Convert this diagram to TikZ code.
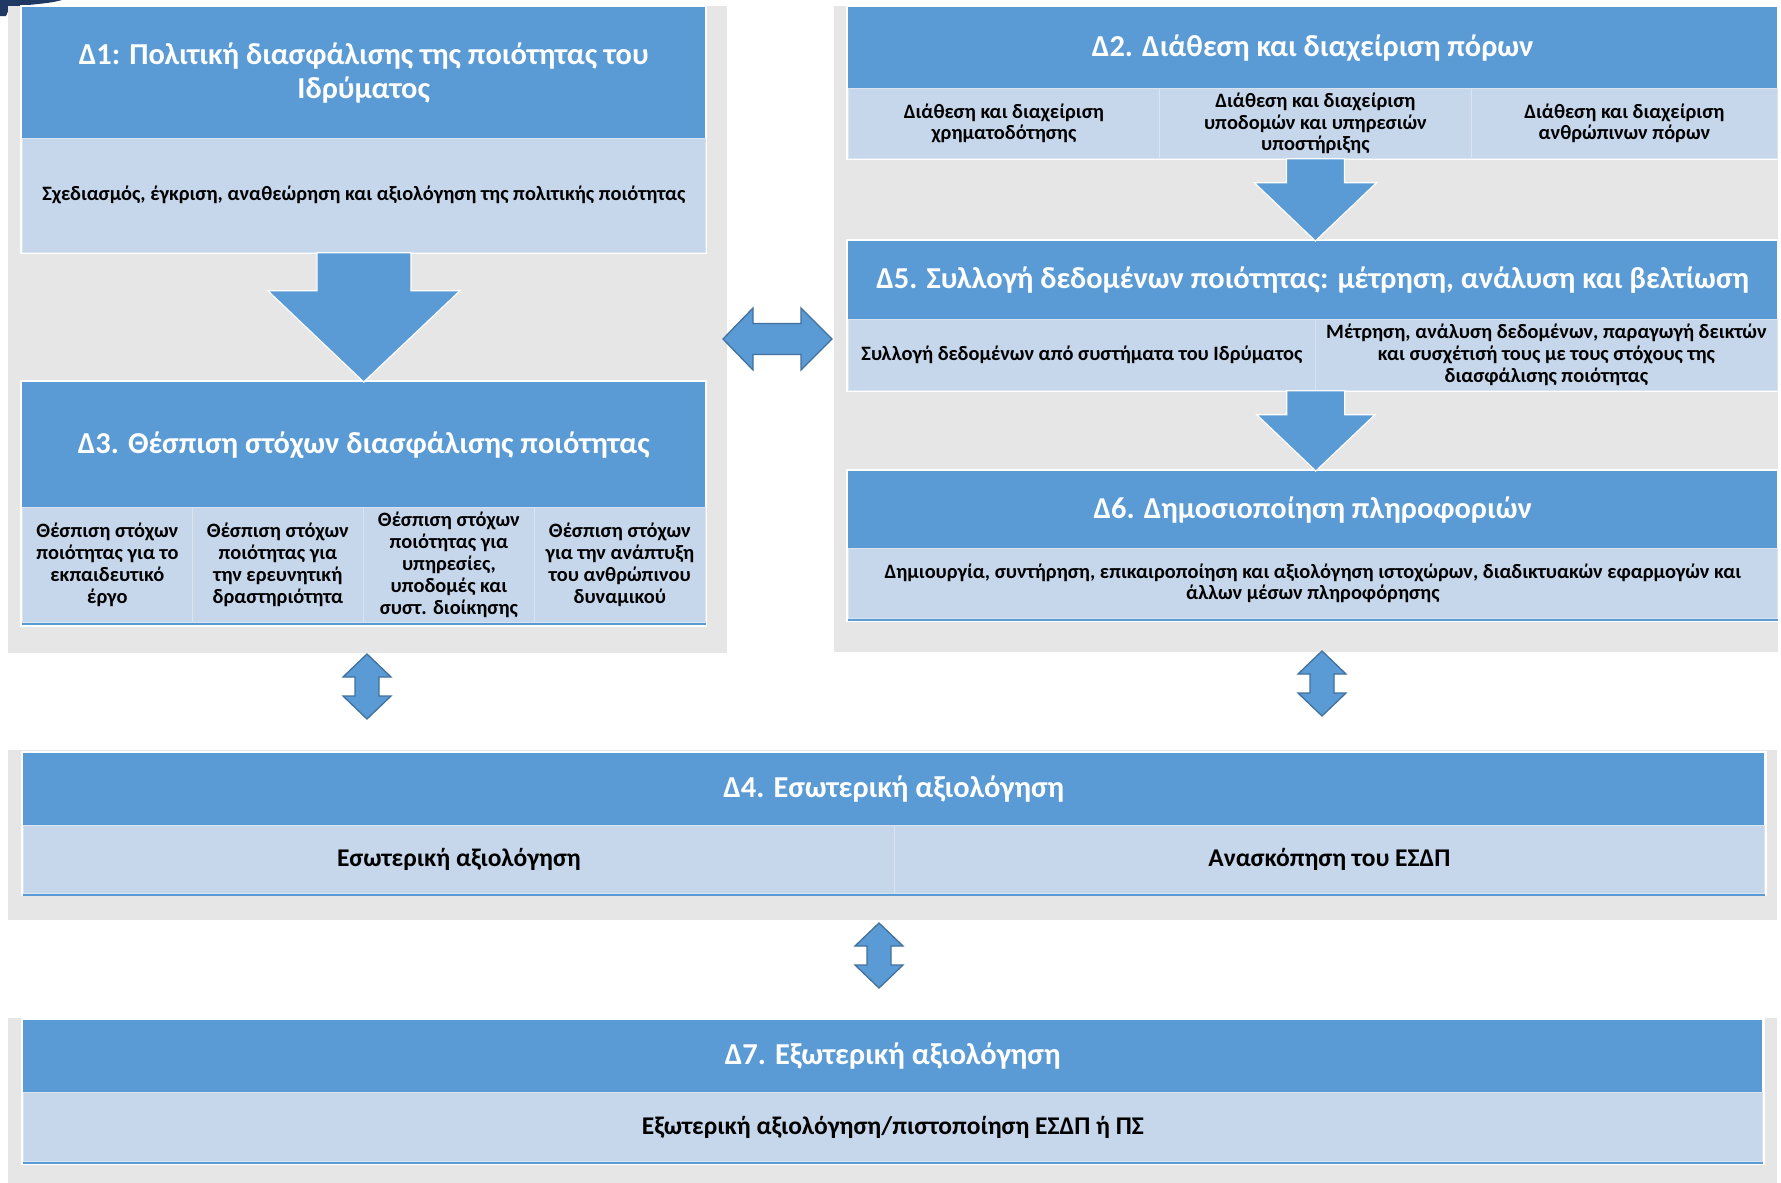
\documentclass[tikz,border=0pt]{standalone}
\usepackage{fontspec}
\setmainfont{Carlito}
\usetikzlibrary{calc}
\definecolor{hblue}{HTML}{5B9BD5}
\definecolor{lblue}{HTML}{C6D7EC}
\definecolor{pgray}{HTML}{E6E6E6}
\definecolor{aedge}{HTML}{41719C}
\definecolor{cellsep}{HTML}{DAE4F1}
\definecolor{navyblob}{HTML}{1F3864}
\newcommand\mytitlefont{\bfseries\fontsize{30.4}{34}\selectfont}
\newcommand\mycellfont{\bfseries\fontsize{20.4}{21.8}\selectfont}
\newcommand\mybigcellfont{\bfseries\fontsize{25.5}{28}\selectfont}
\begin{document}
\begin{tikzpicture}[x=1pt,y=-1pt,
  panel/.style={fill=pgray, draw=none, inner sep=0pt, anchor=north west},
  wframe/.style={fill=white, draw=none, inner sep=0pt, anchor=north west},
  hdr/.style={fill=hblue, draw=none, inner sep=2pt, anchor=north west, text=white, font=\mytitlefont, align=center},
  cell/.style={fill=lblue, draw=cellsep, line width=0.8pt, inner sep=2pt, anchor=north west, text=black, font=\mycellfont, align=center},
  bigcell/.style={cell, font=\mybigcellfont},
  blockarrow/.style={fill=hblue, draw=white, line width=1.2pt, line join=miter},
  dblarrow/.style={fill=hblue, draw=aedge, line width=1.3pt, line join=miter},
  baseline/.style={draw=hblue, line width=2pt}
]
\fill[white] (0,0) rectangle (1781,1183);
\useasboundingbox (0,0) rectangle (1781,1183);

% logo fragment
\fill[navyblob] (0,0) -- (62,0) .. controls (45,5) and (20,4) .. (9,9) -- (6,16) -- (0,16) -- cycle;

% panels
\node[panel, minimum width=719pt, minimum height=647pt] (panelL) at (8,6) {};
\node[panel, minimum width=944pt, minimum height=646pt] (panelR) at (834,6) {};
\node[panel, minimum width=1769pt, minimum height=170pt] (panelM) at (8,750) {};
\node[panel, minimum width=1769pt, minimum height=165pt] (panelB) at (8,1018) {};

% white frames
\node[wframe, minimum width=687pt, minimum height=249pt] (f1) at (20,5) {};
\node[wframe, minimum width=687pt, minimum height=247pt] (f3) at (20,380) {};
\node[wframe, minimum width=933pt, minimum height=155pt] (f2) at (846,5) {};
\node[wframe, minimum width=933pt, minimum height=153pt] (f5) at (846,239) {};
\node[wframe, minimum width=933pt, minimum height=153pt] (f6) at (846,469) {};
\node[wframe, minimum width=1746pt, minimum height=145pt] (f4) at (21,751) {};
\node[wframe, minimum width=1744pt, minimum height=147pt] (f7) at (21,1018) {};

% D1
\node[hdr, minimum width=683pt, minimum height=131pt] (d1h) at (22,7) {Δ1: Πολιτική διασφάλισης της ποιότητας του\\Ιδρύματος};
\node[cell, minimum width=683pt, minimum height=114pt] (d1s) at (22,138) {Σχεδιασμός, έγκριση, αναθεώρηση και αξιολόγηση της πολιτικής ποιότητας};

% D3
\node[hdr, minimum width=683pt, minimum height=125pt] (d3h) at (22,382) {Δ3. Θέσπιση στόχων διασφάλισης ποιότητας};
\node[cell, minimum width=170pt, minimum height=115pt] (d3a) at (22,507) {Θέσπιση στόχων\\ποιότητας για το\\εκπαιδευτικό\\έργο};
\node[cell, minimum width=171pt, minimum height=115pt] (d3b) at (192,507) {Θέσπιση στόχων\\ποιότητας για\\την ερευνητική\\δραστηριότητα};
\node[cell, minimum width=171pt, minimum height=115pt] (d3c) at (363,507) {Θέσπιση στόχων\\ποιότητας για\\υπηρεσίες,\\υποδομές και\\συστ. διοίκησης};
\node[cell, minimum width=171pt, minimum height=115pt] (d3d) at (534,507) {Θέσπιση στόχων\\για την ανάπτυξη\\του ανθρώπινου\\δυναμικού};
\draw[baseline] ($(d3a.south west)+(0,-1pt)$) -- ($(d3d.south east)+(0,-1pt)$);

% D2
\node[hdr, minimum width=929pt, minimum height=81pt] (d2h) at (848,7) {Δ2. Διάθεση και διαχείριση πόρων};
\node[cell, minimum width=311pt, minimum height=70pt] (d2a) at (848,88) {Διάθεση και διαχείριση\\χρηματοδότησης};
\node[cell, minimum width=312pt, minimum height=70pt] (d2b) at (1159,88) {Διάθεση και διαχείριση\\υποδομών και υπηρεσιών\\υποστήριξης};
\node[cell, minimum width=306pt, minimum height=70pt] (d2c) at (1471,88) {Διάθεση και διαχείριση\\ανθρώπινων πόρων};

% D5
\node[hdr, minimum width=929pt, minimum height=78pt] (d5h) at (848,241) {Δ5. Συλλογή δεδομένων ποιότητας: μέτρηση, ανάλυση και βελτίωση};
\node[cell, minimum width=467pt, minimum height=71pt] (d5a) at (848,319) {Συλλογή δεδομένων από συστήματα του Ιδρύματος};
\node[cell, minimum width=462pt, minimum height=71pt] (d5b) at (1315,319) {Μέτρηση, ανάλυση δεδομένων, παραγωγή δεικτών\\και συσχέτισή τους με τους στόχους της\\διασφάλισης ποιότητας};

% D6
\node[hdr, minimum width=929pt, minimum height=77pt] (d6h) at (848,471) {Δ6. Δημοσιοποίηση πληροφοριών};
\node[cell, minimum width=929pt, minimum height=70pt] (d6s) at (848,548) {Δημιουργία, συντήρηση, επικαιροποίηση και αξιολόγηση ιστοχώρων, διαδικτυακών εφαρμογών και\\άλλων μέσων πληροφόρησης};
\draw[baseline] ($(d6s.south west)+(0,-1pt)$) -- ($(d6s.south east)+(0,-1pt)$);

% D4
\node[hdr, minimum width=1741pt, minimum height=72pt] (d4h) at (23,753) {Δ4. Εσωτερική αξιολόγηση};
\node[bigcell, minimum width=871pt, minimum height=68pt] (d4a) at (23,825) {Εσωτερική αξιολόγηση};
\node[bigcell, minimum width=870pt, minimum height=68pt] (d4b) at (894,825) {Ανασκόπηση του ΕΣΔΠ};
\draw[baseline] ($(d4a.south west)+(0,-1pt)$) -- ($(d4b.south east)+(0,-1pt)$);

% D7
\node[hdr, minimum width=1739pt, minimum height=72pt] (d7h) at (23,1020) {Δ7. Εξωτερική αξιολόγηση};
\node[bigcell, minimum width=1739pt, minimum height=69pt] (d7s) at (23,1092) {Εξωτερική αξιολόγηση/πιστοποίηση ΕΣΔΠ ή ΠΣ};
\draw[baseline] ($(d7s.south west)+(0,-1pt)$) -- ($(d7s.south east)+(0,-1pt)$);

% down arrows
\draw[blockarrow] let \p1=(d1s.south), \p2=(d3h.north) in
  (\x1-47pt,\y1) -- (\x1+47pt,\y1) -- (\x1+47pt,\y1-38pt) -- (\x1+96pt,\y1-38pt)
  -- (\p2) -- (\x1-96pt,\y1-38pt) -- (\x1-47pt,\y1-38pt) -- cycle;
\draw[blockarrow] let \p1=(d2b.south), \p2=(d2b.south |- d5h.north) in
  (\x1-29pt,\y1) -- (\x1+29pt,\y1) -- (\x1+29pt,\y1-24pt) -- (\x1+61pt,\y1-24pt)
  -- (\p2) -- (\x1-61pt,\y1-24pt) -- (\x1-29pt,\y1-24pt) -- cycle;
\draw[blockarrow] let \p1=(d5a.south east), \p2=(d5a.south east |- d6h.north) in
  (\x1-29pt,\y1) -- (\x1+29pt,\y1) -- (\x1+29pt,\y1-24pt) -- (\x1+59pt,\y1-24pt)
  -- (\p2) -- (\x1-59pt,\y1-24pt) -- (\x1-29pt,\y1-24pt) -- cycle;

% horizontal double arrow
\coordinate (hL) at (723,339);
\coordinate (hR) at (832,339);
\draw[dblarrow] let \p1=(hL), \p2=(hR) in
  (\p1) -- (\x1+30pt,\y1+31pt) -- (\x1+30pt,\y1+15.5pt) -- (\x2-31pt,\y2+15.5pt)
  -- (\x2-31pt,\y2+31pt) -- (\p2) -- (\x2-31pt,\y2-31pt) -- (\x2-31pt,\y2-15.5pt)
  -- (\x1+30pt,\y1-15.5pt) -- (\x1+30pt,\y1-31pt) -- cycle;

% vertical double arrows
\coordinate (v1t) at (367,654);  \coordinate (v1b) at (367,719);
\coordinate (v2t) at (1322,651); \coordinate (v2b) at (1322,716);
\coordinate (v3t) at (879,923);  \coordinate (v3b) at (879,988);
\foreach \t/\b in {v1t/v1b, v2t/v2b, v3t/v3b}{
  \draw[dblarrow] let \p1=(\t), \p2=(\b) in
    (\p1) -- (\x1+24pt,\y1-23pt) -- (\x1+12pt,\y1-23pt) -- (\x2+12pt,\y2+23pt)
    -- (\x2+24pt,\y2+23pt) -- (\p2) -- (\x2-24pt,\y2+23pt) -- (\x2-12pt,\y2+23pt)
    -- (\x1-12pt,\y1-23pt) -- (\x1-24pt,\y1-23pt) -- cycle;
}
\end{tikzpicture}
\end{document}
